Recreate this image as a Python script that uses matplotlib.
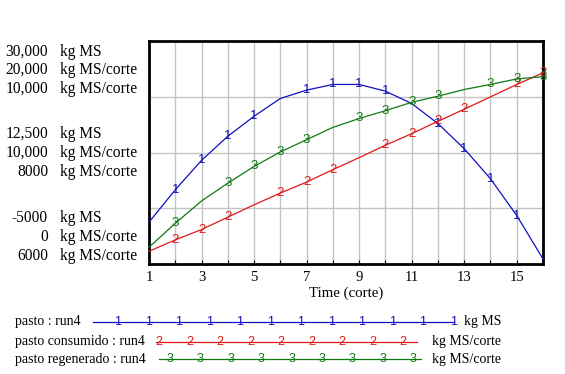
import matplotlib
matplotlib.use('Agg')
import matplotlib.pyplot as plt

# ---- data ----
time = list(range(1, 17))
pasto = [1560, 6650, 11270, 15050, 18190, 20980, 22290, 23180,
         23180, 22130, 20190, 17040, 13100, 8380, 2610, -4210]
consumido = [1140, 2160, 3090, 4200, 5310, 6360, 7350, 8460,
             9540, 10650, 11690, 12800, 13880, 14990, 16100, 17150]
regenerado = [6300, 6730, 7130, 7450, 7750, 8010, 8230, 8450,
              8610, 8750, 8900, 9010, 9130, 9220, 9320, 9360]

x_tick_labels = ['1', '3', '5', '7', '9', '11', '13', '15']
pasto_labels = ['30,000', '12,500', '-5000']
consumido_labels = ['20,000', '10,000', '0']
regenerado_labels = ['10,000', '8000', '6000']
pasto_range = (-5000, 30000)
consumido_range = (0, 20000)
regenerado_range = (6000, 10000)

series_names = ['pasto : run4', 'pasto consumido : run4', 'pasto regenerado : run4']
units = ['kg MS', 'kg MS/corte', 'kg MS/corte']

# marker positions (time values where the number labels appear)
pasto_marks = [2, 3, 4, 5, 7, 8, 9, 10, 12, 13, 14, 15]
consumido_marks = [2, 3, 4, 6, 7, 8, 10, 11, 12, 13, 15, 16]
regenerado_marks = [2, 4, 5, 6, 7, 9, 10, 11, 12, 14, 15, 16]

BLUE = '#1010c0'
RED = '#e01818'
GREEN = '#107a10'
SERIF = 'Liberation Serif'
SANS = 'Liberation Sans'

W, H = 565, 374
fig = plt.figure(figsize=(W / 100, H / 100), dpi=100)
L, R, T, B = 149, 543, 41, 264
rect = [L / W, 1 - B / H, (R - L) / W, (B - T) / H]

ax = fig.add_axes(rect)
ax.set_xlim(1, 16)
ax.set_ylim(*pasto_range)
step = (pasto_range[1] - pasto_range[0]) / 4
ax.set_yticks([pasto_range[0] + i * step for i in range(5)])
ax.set_yticklabels([])
ax.tick_params(axis='y', length=0)
ax.set_xticks(time)
ax.set_xticklabels([str(t) if str(t) in x_tick_labels else '' for t in time],
                   fontfamily=SERIF, fontsize=10.5)
ax.tick_params(axis='x', direction='in', length=3, pad=5, width=0.8)
ax.grid(True, color='#c4c4c4', linewidth=1)
ax.set_axisbelow(True)
for s in ax.spines.values():
    s.set_linewidth(2)
    s.set_color('black')
ax.set_xlabel('Time (corte)', fontfamily=SERIF, fontsize=10.7, labelpad=2)

ax2 = ax.twinx()
ax2.set_ylim(*consumido_range)
ax3 = ax.twinx()
ax3.set_ylim(*regenerado_range)
for a in (ax2, ax3):
    a.set_yticks([])
    for s in a.spines.values():
        s.set_visible(False)

def draw(a, vals, marks, color, label):
    a.plot(time, vals, color=color, linewidth=0.9, zorder=3, clip_on=False)
    for t in marks:
        a.text(t, vals[time.index(t)], label, color=color, ha='center', va='center',
               fontsize=9.5, fontfamily=SANS, zorder=4, clip_on=False)

draw(ax, pasto, pasto_marks, BLUE, '1')
draw(ax2, consumido, consumido_marks, RED, '2')
draw(ax3, regenerado, regenerado_marks, GREEN, '3')

# left axis labels
rows = [(pasto_labels[0], units[0], 52), (consumido_labels[0], units[1], 70), (regenerado_labels[0], units[2], 89),
        (pasto_labels[1], units[0], 134), (consumido_labels[1], units[1], 153), (regenerado_labels[1], units[2], 172),
        (pasto_labels[2], units[0], 218), (consumido_labels[2], units[1], 237), (regenerado_labels[2], units[2], 256)]
for val, unit, y in rows:
    fig.text(48 / W, 1 - y / H, val, ha='right', va='center', fontfamily=SERIF, fontsize=11.2)
    fig.text(60 / W, 1 - y / H, unit, ha='left', va='center', fontfamily=SERIF, fontsize=11.2)

# legend
lg = fig.add_axes([0, 0, 1, 1])
lg.set_xlim(0, W)
lg.set_ylim(H, 0)
lg.axis('off')
legend_specs = [
    (series_names[0], units[0], BLUE, '1', 322, 93, 454, [118 + i * 30.5 for i in range(12)], 464),
    (series_names[1], units[1], RED, '2', 342, 156, 417, [159 + i * 30.5 for i in range(9)], 432),
    (series_names[2], units[2], GREEN, '3', 359, 159, 421, [170 + i * 30.4 for i in range(9)], 432),
]
for name, unit, color, lab, y, x0, x1, mx, ux in legend_specs:
    lg.text(15, y, name, ha='left', va='center', fontfamily=SERIF, fontsize=10)
    lg.plot([x0, x1], [y, y], color=color, linewidth=0.9)
    for m in mx:
        lg.text(m, y, lab, color=color, ha='center', va='center', fontsize=9, fontfamily=SANS)
    lg.text(ux, y, unit, ha='left', va='center', fontfamily=SERIF, fontsize=10)

fig.savefig('out.png', dpi=100)
